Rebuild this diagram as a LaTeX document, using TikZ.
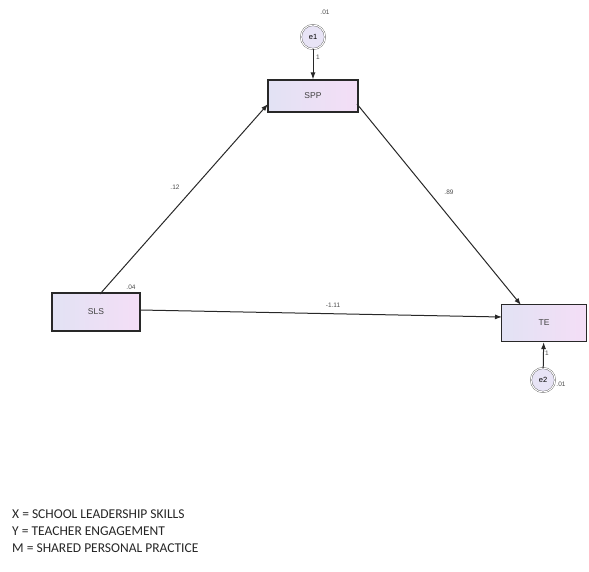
\documentclass[tikz,border=0pt]{standalone}
\usepackage{fontspec}
\setmainfont{Carlito}
\setsansfont{Liberation Sans}
\usetikzlibrary{arrows.meta}
\definecolor{boxL}{RGB}{226,226,244}
\definecolor{boxR}{RGB}{244,222,246}
\definecolor{circF}{RGB}{232,228,246}
\definecolor{lineC}{RGB}{40,40,40}
\begin{document}
\begin{tikzpicture}[x=1pt,y=-1pt,
  var/.style={draw=lineC,line width=1.2pt,left color=boxL,right color=boxR,minimum width=88pt,minimum height=35pt,inner sep=0pt,font=\sffamily\fontsize{8.5}{9}\selectfont,text=black!75},
  err/.style={circle,draw=gray!70!black,double=white,double distance=1pt,fill=circF,minimum size=24pt,inner sep=0pt,font=\sffamily\fontsize{7.5}{8}\selectfont},
  lab/.style={font=\sffamily\fontsize{6.5}{7}\selectfont,text=black!70,inner sep=1pt},
  conn/.style={draw=lineC,line width=1pt,-{Latex[length=7pt,width=5pt]}}]
\useasboundingbox (0,0) rectangle (589,571);
\node[var,minimum height=32pt,minimum width=90pt] (spp) at (313,96) {SPP};
\node[var,minimum height=38pt] (sls) at (96,312) {SLS};
\node[var,minimum width=85pt,minimum height=37pt] (te) at (544,323) {TE};
\node[err] (e1) at (313,37) {e1};
\node[err] (e2) at (543,380) {e2};
\coordinate (slsT) at (100,294);
\coordinate (sppBL) at (268,104);
\coordinate (sppBR) at (357,104);
\coordinate (teT) at (521,305);
\coordinate (slsR) at (140,310);
\coordinate (teL) at (502,317);
\draw[conn] (slsT) -- (sppBL);
\draw[conn] (sppBR) -- (teT);
\draw[conn] (slsR) -- (teL);
\draw[conn] (e1) -- (spp);
\draw[conn] (e2) -- (te);
\node[lab] (l1) at (175,187) {.12};
\node[lab] (l2) at (449,192) {.89};
\node[lab] (l3) at (333,305) {-1.11};
\node[lab] (l4) at (131,287) {.04};
\node[lab] (l5) at (325,12) {.01};
\node[lab] (l6) at (561,384) {.01};
\node[lab] (l7) at (318,57) {1};
\node[lab] (l8) at (547,353) {1};
\node[anchor=west,inner sep=0pt,font=\fontsize{13.5}{17}\selectfont,text=black!85,align=left] (leg) at (12,531) {X = SCHOOL LEADERSHIP SKILLS\\Y = TEACHER ENGAGEMENT\\M = SHARED PERSONAL PRACTICE};
\end{tikzpicture}
\end{document}
